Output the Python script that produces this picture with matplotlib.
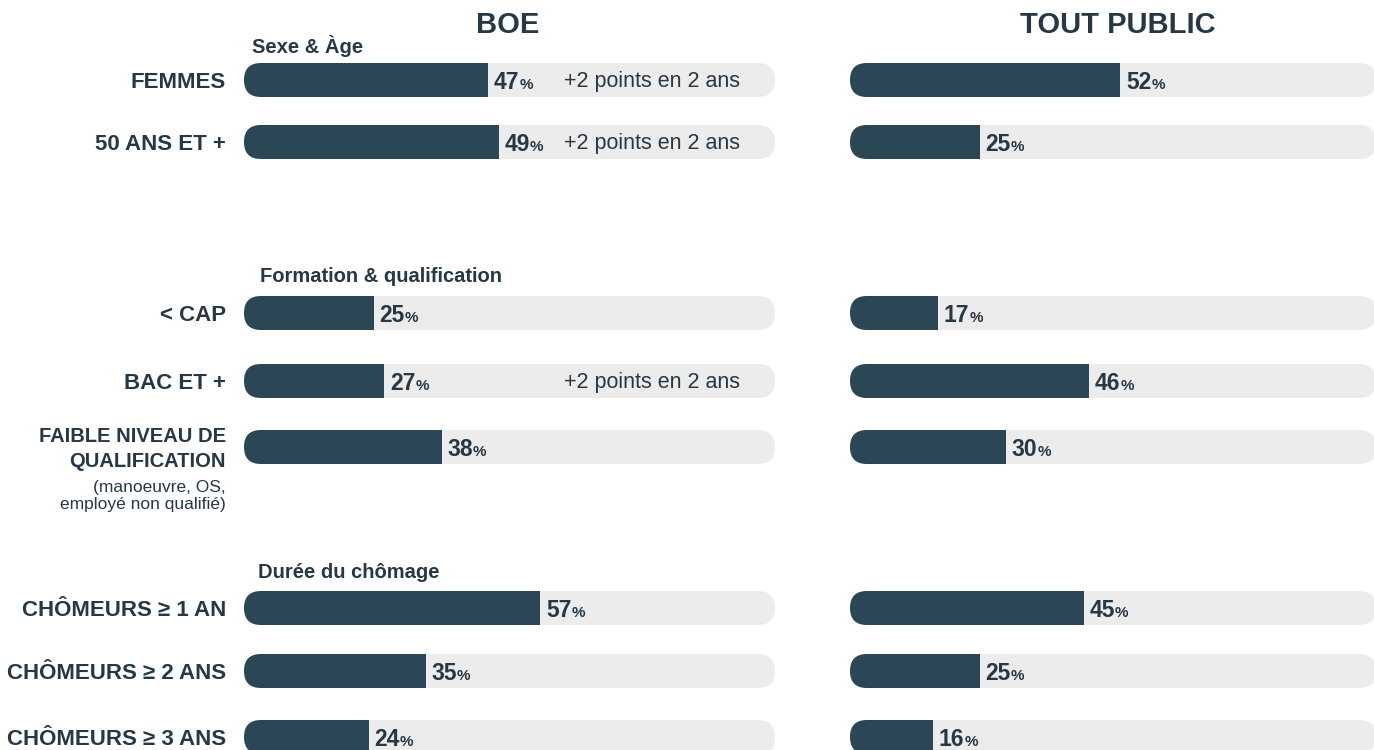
import matplotlib
matplotlib.use("Agg")
from matplotlib import pyplot as plt
from matplotlib.patches import FancyBboxPatch

plt.rcParams["font.family"] = ["Liberation Sans", "DejaVu Sans"]

labels = ["FEMMES", "50 ANS ET +", "< CAP", "BAC ET +",
          "FAIBLE NIVEAU DE\nQUALIFICATION",
          "CHÔMEURS ≥ 1 AN", "CHÔMEURS ≥ 2 ANS", "CHÔMEURS ≥ 3 ANS"]
sublabels = ["", "", "", "", "(manoeuvre, OS,\nemployé non qualifié)", "", "", ""]
boe = [47, 49, 25, 27, 38, 57, 35, 24]
tout_public = [52, 25, 17, 46, 30, 45, 25, 16]
notes = ["+2 points en 2 ans", "+2 points en 2 ans", "", "+2 points en 2 ans", "", "", "", ""]
groups = ["Sexe & Àge", "Formation & qualification", "Durée du chômage"]
panels = ["BOE", "TOUT PUBLIC"]

# layout (pixels, from the top of a 1374x750 canvas)
W, H = 1374, 750
row_y = [80, 142, 313, 381, 447, 608, 671, 737]
group_pos = [(252, 46), (260, 277), (258, 572)]
panel_x = [508, 1118]
px_per_pct = 5.2
bar_h = 34

DARK = "#2b4655"
TRACK = "#ececec"
TEXT = "#263845"

fig = plt.figure(figsize=(W / 100, H / 100), dpi=100)


def make_axes(left_px, right_px):
    ax = fig.add_axes([left_px / W, 0, (right_px - left_px) / W, 1])
    ax.set_xlim(0, (right_px - left_px) / px_per_pct)
    ax.set_ylim(H, 0)
    ax.axis("off")
    return ax


def rounded(ax, x0, x1, y, color):
    r = bar_h / 2 / px_per_pct
    p = FancyBboxPatch((x0, y - bar_h / 2), x1 - x0, bar_h,
                       boxstyle=f"round,pad=0,rounding_size={r}",
                       mutation_aspect=px_per_pct, fc=color, ec="none", clip_on=False)
    ax.add_patch(p)
    return r


def draw_panel(ax, values, with_notes):
    xmax = ax.get_xlim()[1]
    r = bar_h / 2 / px_per_pct
    for i, v in enumerate(values):
        y = row_y[i]
        rounded(ax, 0, xmax, y, TRACK)
        # rounded start, square end
        rounded(ax, 0, v - r, y, DARK)
        ax.barh(y, v - r, left=r, height=bar_h, color=DARK, lw=0)
        t = ax.annotate(str(v), xy=(v, y), xytext=(4, -1.5), textcoords="offset points",
                        ha="left", va="center", fontsize=16.5, fontweight="bold", color=TEXT)
        ax.annotate("%", xy=(1, 0), xycoords=t, xytext=(0, 1), textcoords="offset points",
                    ha="left", va="bottom", fontsize=11, fontweight="bold", color=TEXT)
        if with_notes and notes[i]:
            ax.annotate(notes[i], xy=(xmax, y), xytext=(-25, -1), textcoords="offset points",
                        ha="right", va="center", fontsize=15.5, color=TEXT)


ax1 = make_axes(244, 775)
ax2 = make_axes(850, 1376)
draw_panel(ax1, boe, True)
draw_panel(ax2, tout_public, False)

for i, lab in enumerate(labels):
    y = row_y[i]
    multi = "\n" in lab
    ax1.annotate(lab, xy=(0, y), xytext=(-13, -1.5), textcoords="offset points",
                 ha="right", va="center", fontsize=14.5 if multi else 16,
                 fontweight="bold", color=TEXT, linespacing=1.45)
    if sublabels[i]:
        ax1.annotate(sublabels[i], xy=(0, y + 49), xytext=(-13, 0), textcoords="offset points",
                     ha="right", va="center", fontsize=12.5, color=TEXT, linespacing=1.1)

for name, (gx, gy) in zip(groups, group_pos):
    fig.text(gx / W, 1 - gy / H, name, ha="left", va="center",
             fontsize=14.5, fontweight="bold", color=TEXT)

for name, px in zip(panels, panel_x):
    fig.text(px / W, 1 - 25 / H, name, ha="center", va="center",
             fontsize=21, fontweight="bold", color=TEXT)

fig.savefig("out.png", dpi=100, facecolor="white")
